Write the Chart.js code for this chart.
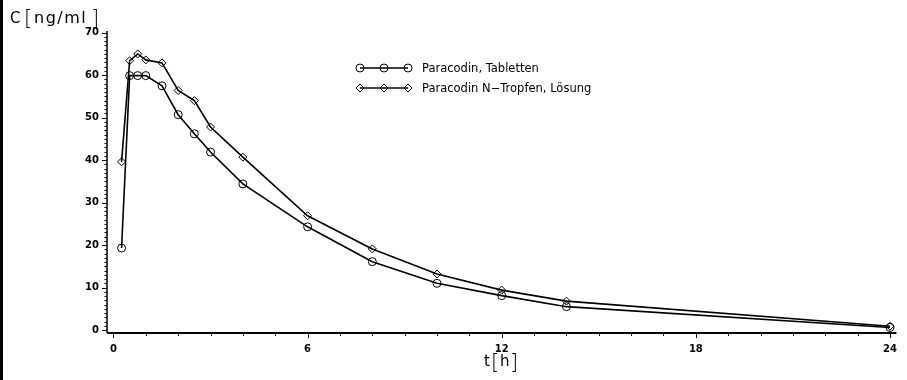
<!DOCTYPE html>
<html lang="de">
<head>
<meta charset="UTF-8">
<title>Paracodin Plasmaspiegel</title>
<script src="https://cdn.jsdelivr.net/npm/chart.js@4.4.1/dist/chart.umd.min.js"></script>
<style>
  html, body { margin: 0; padding: 0; background: #fff; }
  #wrap { position: relative; width: 907px; height: 380px; overflow: hidden; }
  #edge { position: absolute; left: 0; top: 0; width: 3px; height: 380px; background: #000; }
</style>
</head>
<body>
<div id="wrap">
  <canvas id="myChart" width="907" height="380"></canvas>
  <div id="edge"></div>
</div>
<script>
// values
const times = [0.25, 0.5, 0.75, 1, 1.5, 2, 2.5, 3, 4, 6, 8, 10, 12, 14, 24];
const tabletten = [19.3, 59.9, 59.9, 59.9, 57.5, 50.7, 46.2, 41.9, 34.4, 24.3, 16.1, 11.0, 8.1, 5.5, 0.6];
const tropfen = [39.6, 63.4, 65.0, 63.6, 62.9, 56.4, 54.0, 47.8, 40.7, 26.9, 19.1, 13.2, 9.4, 6.8, 0.9];
const seriesNames = ['Paracodin, Tabletten', 'Paracodin N\u2212Tropfen, L\u00f6sung'];
const xTickLabels = [0, 6, 12, 18, 24];
const yTickLabels = [0, 10, 20, 30, 40, 50, 60, 70];
const xMinorStep = 1;
const yMinorStep = 1;

const tickFont = { family: 'DejaVu Sans', size: 10, weight: 'bold' };

function toPoints(ys) {
  return times.map((t, i) => ({ x: t, y: ys[i] }));
}

// axis lines, minor/major ticks, axis titles and the legend
const decor = {
  id: 'decor',
  afterDraw(chart) {
    const ctx = chart.ctx;
    const xs = chart.scales.x, ys = chart.scales.y;
    const a = chart.chartArea;
    ctx.save();
    ctx.strokeStyle = '#000';
    ctx.fillStyle = '#000';

    // axis lines
    ctx.lineWidth = 1.5;
    ctx.beginPath();
    ctx.moveTo(a.left, a.top);
    ctx.lineTo(a.left, a.bottom);
    ctx.stroke();
    ctx.lineWidth = 2;
    ctx.beginPath();
    ctx.moveTo(a.left, a.bottom);
    ctx.lineTo(a.right, a.bottom);
    ctx.stroke();

    // ticks
    ctx.lineWidth = 1;
    for (let v = 0; v <= 70; v += yMinorStep) {
      const y = Math.round(ys.getPixelForValue(v)) + 0.5;
      const len = v % 10 === 0 ? 5 : 2.5;
      ctx.beginPath();
      ctx.moveTo(a.left - len, y);
      ctx.lineTo(a.left, y);
      ctx.stroke();
    }
    for (let v = 0; v <= 24; v += xMinorStep) {
      const x = Math.round(xs.getPixelForValue(v)) + 0.5;
      const len = v % 6 === 0 ? 5 : 3;
      ctx.beginPath();
      ctx.moveTo(x, a.bottom);
      ctx.lineTo(x, a.bottom + len);
      ctx.stroke();
    }

    // axis titles with tall brackets
    ctx.textBaseline = 'alphabetic';
    ctx.textAlign = 'left';
    ctx.font = '15px "DejaVu Sans"';
    ctx.fillText('C', 10, 23);
    ctx.font = '16px "DejaVu Sans"';
    ctx.letterSpacing = '1.5px';
    ctx.fillText('ng/ml', 34, 23);
    ctx.letterSpacing = '0px';
    ctx.font = '200 21px "DejaVu Sans"';
    ctx.fillText('[', 24, 25);
    ctx.fillText(']', 91, 25);

    ctx.font = '15px "DejaVu Sans"';
    ctx.fillText('t', 484, 366);
    ctx.fillText('h', 500, 366);
    ctx.font = '200 21px "DejaVu Sans"';
    ctx.fillText('[', 491, 369);
    ctx.fillText(']', 510, 369);

    // legend
    const rows = [68, 88];
    chart.data.datasets.forEach((ds, i) => {
      const y = rows[i];
      ctx.lineWidth = 1.3;
      ctx.beginPath();
      ctx.moveTo(360, y);
      ctx.lineTo(408, y);
      ctx.stroke();
      ctx.fillStyle = 'rgba(0,0,0,0)';
      ctx.lineWidth = 1;
      [360, 384, 408].forEach(px => {
        Chart.helpers.drawPoint(ctx, {
          pointStyle: ds.pointStyle,
          radius: ds.pointRadius,
          rotation: 0,
          borderWidth: 1
        }, px, y);
      });
      ctx.fillStyle = '#000';
      ctx.font = '11.5px "DejaVu Sans"';
      ctx.textBaseline = 'middle';
      ctx.fillText(seriesNames[i], 422, y + 1);
    });
    ctx.restore();
  }
};

const ctx = document.getElementById('myChart').getContext('2d');
new Chart(ctx, {
  type: 'line',
  data: {
    datasets: [
      {
        label: seriesNames[0],
        data: toPoints(tabletten),
        borderColor: '#000',
        borderWidth: 1.6,
        pointStyle: 'circle',
        pointRadius: 4,
        pointBorderColor: '#000',
        pointBackgroundColor: 'rgba(0,0,0,0)',
        pointBorderWidth: 1,
        tension: 0
      },
      {
        label: seriesNames[1],
        data: toPoints(tropfen),
        borderColor: '#000',
        borderWidth: 1.6,
        pointStyle: 'rectRot',
        pointRadius: 4,
        pointBorderColor: '#000',
        pointBackgroundColor: 'rgba(0,0,0,0)',
        pointBorderWidth: 1,
        tension: 0
      }
    ]
  },
  options: {
    responsive: false,
    animation: false,
    layout: { padding: { left: 7, right: 9, top: 31, bottom: 0 } },
    plugins: {
      legend: { display: false },
      tooltip: { enabled: false }
    },
    scales: {
      x: {
        type: 'linear',
        min: -0.2,
        max: 24.2,
        grid: { display: false, drawTicks: false },
        border: { display: false },
        afterBuildTicks: s => { s.ticks = xTickLabels.map(v => ({ value: v })); },
        afterFit: s => { s.height = 47; },
        ticks: { color: '#000', font: tickFont, padding: 10, maxRotation: 0 }
      },
      y: {
        min: -0.7,
        max: 70.4,
        grid: { display: false, drawTicks: false },
        border: { display: false },
        afterBuildTicks: s => { s.ticks = yTickLabels.map(v => ({ value: v })); },
        afterFit: s => { s.width = 100; },
        ticks: { color: '#000', font: tickFont, padding: 8 }
      }
    }
  },
  plugins: [decor]
});
</script>
</body>
</html>
